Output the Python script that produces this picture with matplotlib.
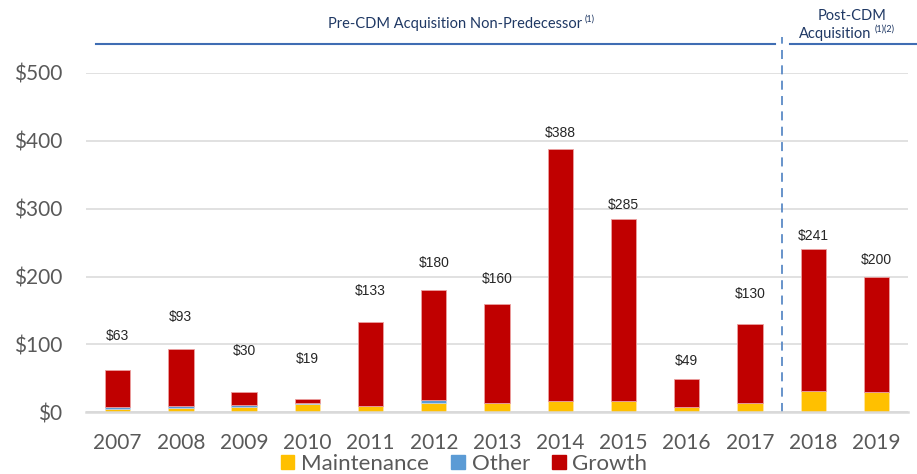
import matplotlib
matplotlib.use("Agg")
import matplotlib.pyplot as plt
from matplotlib.patches import Patch

years = ["2007", "2008", "2009", "2010", "2011", "2012", "2013",
         "2014", "2015", "2016", "2017", "2018", "2019"]
maintenance = [5, 6, 8, 12, 9, 14, 14, 16, 16, 8, 13, 32, 30]
other = [3, 3.5, 2.5, 1, 0, 4.5, 0, 0, 0, 0, 0, 0, 0]
growth = [55, 83.5, 19.5, 6, 124, 161.5, 146, 372, 269, 41, 117, 209, 170]
totals = [63, 93, 30, 19, 133, 180, 160, 388, 285, 49, 130, 241, 200]
label_y = [113, 141, 90, 78, 178, 220, 197, 411, 305, 76, 175, 260, 224]
y_ticks = [0, 100, 200, 300, 400, 500]
y_tick_labels = ["$0", "$100", "$200", "$300", "$400", "$500"]
series_names = ["Maintenance", "Other", "Growth"]

C_MAINT = "#FFC000"
C_OTHER = "#5B9BD5"
C_GROWTH = "#C00000"
GRID = "#D9D9D9"
TXT = "#595959"
NAVY = "#1F3864"
BLUE = "#3F6DB3"

fig = plt.figure(figsize=(9.17, 4.74), dpi=100)
ax = fig.add_axes([0.0938, 0.1302, 0.8964, 0.7158])

x = list(range(len(years)))
w = 0.4
bottom2 = [m + o for m, o in zip(maintenance, other)]
ax.bar(x, maintenance, w, color=C_MAINT, edgecolor="#FFE9B0", linewidth=0.4, zorder=3)
ax.bar(x, other, w, bottom=maintenance, color=C_OTHER, edgecolor="#C9DDF0", linewidth=0.4, zorder=3)
ax.bar(x, growth, w, bottom=bottom2, color=C_GROWTH, edgecolor="#EBA0A0", linewidth=0.6, zorder=3)

for xi, t, ly in zip(x, totals, label_y):
    ax.text(xi, ly, f"${t}", ha="center", va="center", fontsize=10,
            family="Liberation Sans", color="#262626", zorder=5)

ax.set_xlim(-0.5, 12.5)
ax.set_ylim(0, 500)
ax.set_yticks(y_ticks)
ax.set_yticklabels(y_tick_labels)
ax.set_xticks(x)
ax.set_xticklabels(years)
ax.tick_params(axis="both", length=0, labelsize=15, labelcolor=TXT)
ax.tick_params(axis="y", pad=17)
ax.tick_params(axis="x", pad=15)
for lab in ax.get_xticklabels() + ax.get_yticklabels():
    lab.set_family("Lato")

for s in ["top", "right", "left"]:
    ax.spines[s].set_visible(False)
ax.spines["bottom"].set_color(GRID)
ax.spines["bottom"].set_linewidth(1.8)
ax.spines["bottom"].set_zorder(4)
ax.yaxis.grid(True, color=GRID, linewidth=1.1, zorder=0)
ax.set_axisbelow(True)

# dashed separator
tr = ax.get_xaxis_transform()
ax.plot([10.5, 10.5], [0, 1.106], transform=tr, clip_on=False,
        color="#5B8AC6", linewidth=1.3, linestyle=(0, (5, 3.5)), zorder=2)

# header lines
ax.plot([-0.34, 10.39], [1.0846, 1.0846], transform=tr, clip_on=False,
        color=BLUE, linewidth=1.5)
ax.plot([10.64, 12.7], [1.0846, 1.0846], transform=tr, clip_on=False,
        color=BLUE, linewidth=1.5)

ax.text(7.34, 1.144, "Pre-CDM Acquisition Non-Predecessor", transform=tr,
        ha="right", va="center", fontsize=10.5, family="Lato", color=NAVY)
ax.text(7.39, 1.158, "(1)", transform=tr, ha="left", va="center",
        fontsize=6.5, family="Lato", color=NAVY)
ax.text(11.62, 1.168, "Post-CDM", transform=tr, ha="center", va="center",
        fontsize=10.5, family="Lato", color=NAVY)
ax.text(11.92, 1.115, "Acquisition", transform=tr, ha="right", va="center",
        fontsize=10.5, family="Lato", color=NAVY)
ax.text(11.97, 1.129, "(1)(2)", transform=tr, ha="left", va="center",
        fontsize=6.5, family="Lato", color=NAVY)

handles = [Patch(color=C_MAINT), Patch(color=C_OTHER), Patch(color=C_GROWTH)]
leg = fig.legend(handles, series_names, loc="center", bbox_to_anchor=(0.506, 0.022),
                 ncol=3, frameon=False, handlelength=0.62, handleheight=0.62,
                 handletextpad=0.3, columnspacing=1.0, borderpad=0,
                 prop={"family": "Lato", "size": 16})
for t in leg.get_texts():
    t.set_color(TXT)

fig.savefig("out.png", dpi=100)
